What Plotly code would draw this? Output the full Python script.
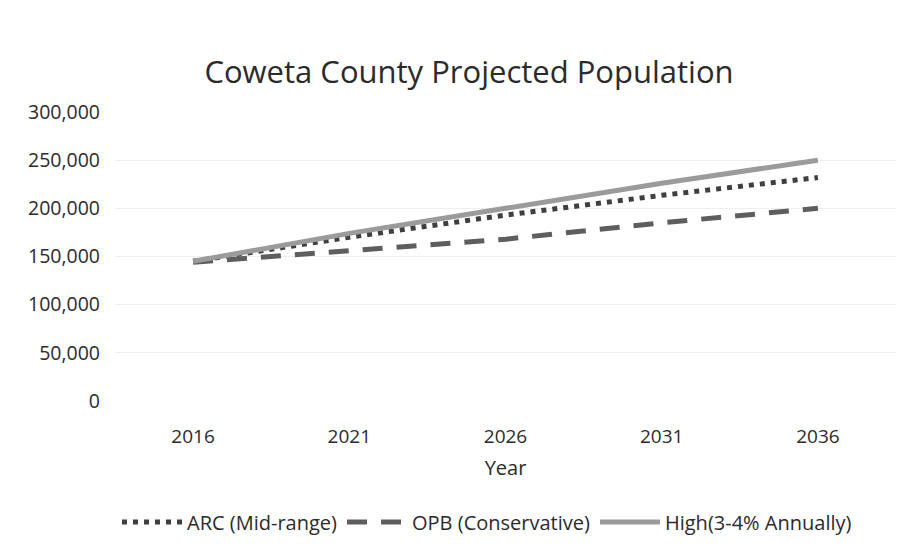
import plotly.graph_objects as go

# Projection years and population series
years = ["2016", "2021", "2026", "2031", "2036"]
arc_mid_range = [145000, 170000, 193000, 213500, 232000]
opb_conservative = [144000, 156000, 168000, 185000, 200000]
high_3_4_pct = [145000, 174000, 200000, 226000, 250000]

y_ticks = [0, 50000, 100000, 150000, 200000, 250000, 300000]

FONT = "Open Sans"
TEXT = "#2b2b2b"

fig = go.Figure()

fig.add_trace(go.Scatter(
    x=years, y=arc_mid_range, mode="lines", name="ARC (Mid-range)",
    line=dict(color="#3f3f3f", width=5, dash="5px,6px"),
))
fig.add_trace(go.Scatter(
    x=years, y=opb_conservative, mode="lines", name="OPB (Conservative)",
    line=dict(color="#5e5e5e", width=5, dash="20px,14px"),
))
fig.add_trace(go.Scatter(
    x=years, y=high_3_4_pct, mode="lines", name="High(3-4% Annually)",
    line=dict(color="#9b9b9b", width=5),
))

fig.update_layout(
    width=909, height=559,
    margin=dict(l=115, r=13, t=112, b=158),
    paper_bgcolor="white", plot_bgcolor="white",
    font=dict(family=FONT, color=TEXT, size=18),
    title=dict(
        text="Coweta County Projected Population",
        font=dict(family=FONT, size=31, color=TEXT),
        x=469 / 909, xref="container", xanchor="center",
        y=1 - 72 / 559, yref="container", yanchor="middle",
    ),
    xaxis=dict(
        type="category", range=[-0.5, 4.5],
        showgrid=False, showline=False, zeroline=False,
        ticks="", tickfont=dict(size=19, color=TEXT),
        ticklabelstandoff=22,
        title=dict(text="Year", font=dict(size=20, color=TEXT), standoff=12),
    ),
    yaxis=dict(
        range=[0, 300000], tickvals=y_ticks, tickformat=",d",
        showgrid=True, gridcolor="#efefef", gridwidth=1,
        showline=False, zeroline=False, ticks="",
        tickfont=dict(size=19.5, color=TEXT), ticklabelstandoff=14,
    ),
    legend=dict(
        orientation="h", xref="container", yref="container",
        x=487 / 909, xanchor="center", y=1 - 522 / 559, yanchor="middle",
        font=dict(size=20, color=TEXT), itemwidth=60,
    ),
    showlegend=True,
)

fig.write_html("out.html")
